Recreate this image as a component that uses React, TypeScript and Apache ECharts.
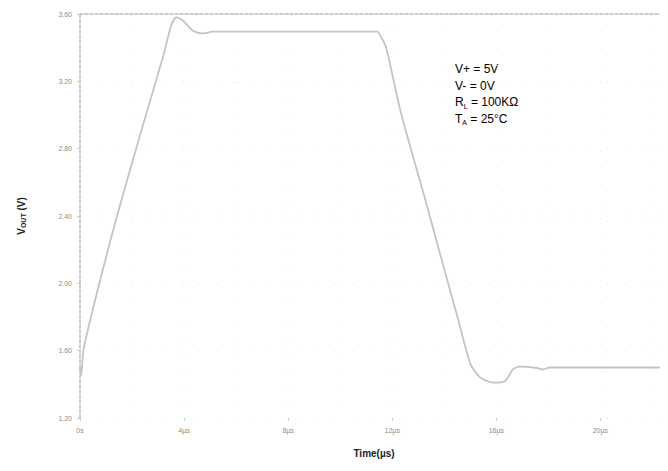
import React, { useEffect, useRef } from "react";
import * as echarts from "echarts";

const timeUs = [0, 0.04, 0.15, 1.3, 2.44, 3.2, 3.5, 3.7, 3.96, 4.34, 4.72, 5.1, 8.0, 11.42, 11.58, 11.77, 12.34, 13.3, 14.29, 14.51, 15.01, 15.39, 15.89, 16.34, 16.65, 16.91, 17.56, 17.79, 18.06, 20.0, 22.6];
const vout = [1.5, 1.45, 1.62, 2.33, 2.95, 3.35, 3.53, 3.58, 3.56, 3.5, 3.485, 3.495, 3.495, 3.495, 3.46, 3.4, 3.01, 2.48, 1.92, 1.8, 1.52, 1.44, 1.41, 1.42, 1.49, 1.505, 1.497, 1.488, 1.5, 1.5, 1.5];

const xTickLabels: Record<number, string> = { 0: "0s", 4: "4µs", 8: "8µs", 12: "12µs", 16: "16µs", 20: "20µs" };
const yMin = 1.2;
const yMax = 3.6;
const yStep = 0.4;
const annotationLines = ["V+ = 5V", "V- = 0V", "{n|R}{s|L}{n| = 100KΩ}", "{n|T}{s|A}{n| = 25°C}"];

export default function App() {
  const ref = useRef<HTMLDivElement>(null);
  useEffect(() => {
    if (!ref.current) return;
    const chart = echarts.init(ref.current, null, { renderer: "svg" });
    const font = "Arial, 'Liberation Sans', sans-serif";
    chart.setOption({
      animation: false,
      backgroundColor: "#ffffff",
      grid: { left: 64, right: 0, top: 6, bottom: 35, containLabel: false },
      xAxis: [
        {
          type: "value",
          min: 0,
          max: 22.6,
          interval: 4,
          name: "Time(µs)",
          nameLocation: "middle",
          nameGap: 30,
          nameTextStyle: { fontFamily: font, fontSize: 10, fontWeight: "bold", color: "#222" },
          axisLine: { show: false },
          axisTick: { show: true, length: 3, lineStyle: { color: "#ccc" } },
          axisLabel: {
            fontFamily: font,
            fontSize: 7,
            color: "#8c8c8c",
            margin: 9,
            showMaxLabel: false,
            formatter: (v: number) => xTickLabels[v] ?? "",
          },
          splitLine: { show: true, lineStyle: { color: "#ebebeb", type: [1, 16], width: 1.5 } },
          minorTick: { show: true, splitNumber: 2, length: 0 },
          minorSplitLine: { show: true, lineStyle: { color: "#efefef", type: [1, 16], width: 1.5 } },
        },
        {
          type: "value",
          position: "top",
          min: 0,
          max: 22.6,
          axisLine: { show: true, lineStyle: { color: "#bbb", type: [3, 2], width: 1.5 } },
          axisTick: { show: false },
          axisLabel: { show: false },
          splitLine: { show: false },
        },
      ],
      yAxis: {
        type: "value",
        min: yMin,
        max: yMax,
        interval: yStep,
        name: "{n|V}{s|OUT}{n| (V)}",
        nameLocation: "middle",
        nameGap: 53,
        nameRotate: 90,
        nameTextStyle: {
          rich: {
            n: { fontFamily: font, fontSize: 10, fontWeight: "bold", color: "#222" },
            s: { fontFamily: font, fontSize: 7, fontWeight: "bold", color: "#222", padding: [5, 0, 0, 0] },
          },
        },
        axisLine: { show: true, lineStyle: { color: "#bbb", type: [3, 2], width: 1.5 } },
        axisTick: { show: true, length: 3, lineStyle: { color: "#ccc" } },
        axisLabel: {
          fontFamily: font,
          fontSize: 7,
          color: "#8c8c8c",
          margin: 8,
          formatter: (v: number) => v.toFixed(2),
        },
        splitLine: { show: true, lineStyle: { color: "#ebebeb", type: [1, 16], width: 1.5 } },
      },
      graphic: [
        {
          type: "text",
          left: 447,
          top: 55,
          style: {
            text: annotationLines.map((l) => (l.startsWith("{") ? l : `{n|${l}}`)).join("\n"),
            rich: {
              n: { fontFamily: font, fontSize: 12, color: "#222", lineHeight: 16.5 },
              s: { fontFamily: font, fontSize: 7, color: "#222", lineHeight: 16.5, padding: [8, 0, 0, 0] },
            },
          },
        },
      ],
      series: [
        {
          type: "line",
          data: timeUs.map((t, i) => [t, vout[i]]),
          showSymbol: false,
          smooth: 0.25,
          lineStyle: { color: "#c4c4c4", width: 1.8 },
          xAxisIndex: 0,
        },
      ],
    });
    return () => chart.dispose();
  }, []);
  return <div ref={ref} style={{ width: 660, height: 455 }} />;
}
